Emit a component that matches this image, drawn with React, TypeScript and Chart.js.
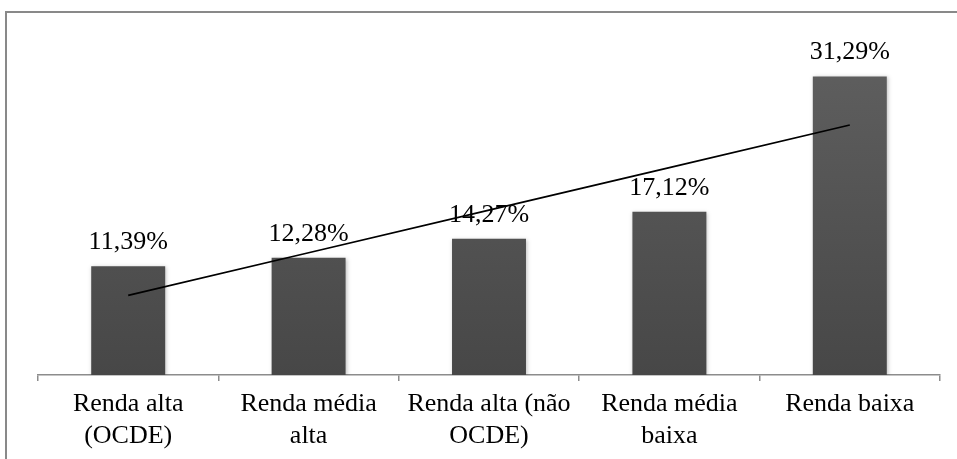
import React, { useEffect, useRef } from "react";
import { Chart, registerables } from "chart.js";

Chart.register(...registerables);

const categories: string[][] = [
  ["Renda alta", "(OCDE)"],
  ["Renda média", "alta"],
  ["Renda alta (não", "OCDE)"],
  ["Renda média", "baixa"],
  ["Renda baixa"],
];
const values: number[] = [11.39, 12.28, 14.27, 17.12, 31.29];
const valueLabels: string[] = ["11,39%", "12,28%", "14,27%", "17,12%", "31,29%"];

function linearTrend(ys: number[]): number[] {
  const n = ys.length;
  const xs = ys.map((_, i) => i + 1);
  const mx = xs.reduce((a, b) => a + b, 0) / n;
  const my = ys.reduce((a, b) => a + b, 0) / n;
  let num = 0;
  let den = 0;
  for (let i = 0; i < n; i++) {
    num += (xs[i] - mx) * (ys[i] - my);
    den += (xs[i] - mx) * (xs[i] - mx);
  }
  const slope = num / den;
  return xs.map((x) => my + slope * (x - mx));
}

const FONT = "'Liberation Serif', 'Times New Roman', serif";

const valueLabelPlugin = {
  id: "valueLabels",
  afterDatasetsDraw(chart: any) {
    const meta = chart.getDatasetMeta(0);
    const ctx = chart.ctx;
    ctx.save();
    ctx.font = `26px ${FONT}`;
    ctx.fillStyle = "#000";
    ctx.textAlign = "center";
    ctx.textBaseline = "alphabetic";
    meta.data.forEach((bar: any, i: number) => {
      ctx.fillText(valueLabels[i], bar.x, bar.y - 17);
    });
    ctx.restore();
  },
};

const shadowPlugin = {
  id: "barShadow",
  beforeDatasetDraw(chart: any, args: any) {
    if (args.index === 0) {
      const ctx = chart.ctx;
      ctx.save();
      ctx.shadowColor = "rgba(0,0,0,0.25)";
      ctx.shadowBlur = 4;
      ctx.shadowOffsetX = 1;
      ctx.shadowOffsetY = 1;
    }
  },
  afterDatasetDraw(chart: any, args: any) {
    if (args.index === 0) {
      chart.ctx.restore();
    }
  },
};

export default function App() {
  const ref = useRef<HTMLCanvasElement | null>(null);

  useEffect(() => {
    document.body.style.overflow = "hidden";
    const canvas = ref.current!;
    const trend = linearTrend(values);
    const chart = new Chart(canvas, {
      type: "bar",
      data: {
        labels: categories,
        datasets: [
          {
            type: "bar",
            data: values,
            order: 2,
            categoryPercentage: 1,
            barPercentage: 0.41,
            backgroundColor: (c: any) => {
              const area = c.chart.chartArea;
              if (!area) return "#555";
              const g = c.chart.ctx.createLinearGradient(0, area.top, 0, area.bottom);
              g.addColorStop(0, "#606060");
              g.addColorStop(1, "#474747");
              return g;
            },
            borderWidth: 0,
          },
          {
            type: "line",
            data: trend,
            order: 1,
            borderColor: "#000",
            borderWidth: 1.7,
            pointRadius: 0,
            fill: false,
          },
        ],
      },
      options: {
        animation: false,
        responsive: false,
        maintainAspectRatio: false,
        layout: { padding: { left: 38, right: 17, top: 41, bottom: 0 } },
        plugins: {
          legend: { display: false },
          tooltip: { enabled: false },
        },
        scales: {
          x: {
            offset: true,
            grid: {
              offset: true,
              drawOnChartArea: false,
              drawTicks: true,
              tickLength: 6,
              color: "#8c8c8c",
              lineWidth: 1.5,
            },
            border: { display: true, color: "#8c8c8c", width: 1.5 },
            ticks: {
              color: "#000",
              font: { family: FONT, size: 26, lineHeight: 1.2 },
              padding: 8,
              maxRotation: 0,
              autoSkip: false,
            },
            afterFit: (scale: any) => {
              scale.height = 84;
            },
          },
          y: {
            display: false,
            min: 0,
            max: 35,
          },
        },
      },
      plugins: [shadowPlugin, valueLabelPlugin],
    });
    return () => chart.destroy();
  }, []);

  return (
    <div style={{ position: "fixed", left: 0, top: 0, width: 957, height: 459, background: "#fff" }}>
      <div
        style={{
          position: "absolute",
          left: 5,
          top: 11,
          width: 952,
          height: 448,
          borderLeft: "2px solid #898989",
          borderTop: "2px solid #898989",
          boxSizing: "border-box",
        }}
      />
      <canvas
        ref={ref}
        width={957}
        height={459}
        style={{ position: "absolute", left: 0, top: 0, width: 957, height: 459 }}
      />
    </div>
  );
}
